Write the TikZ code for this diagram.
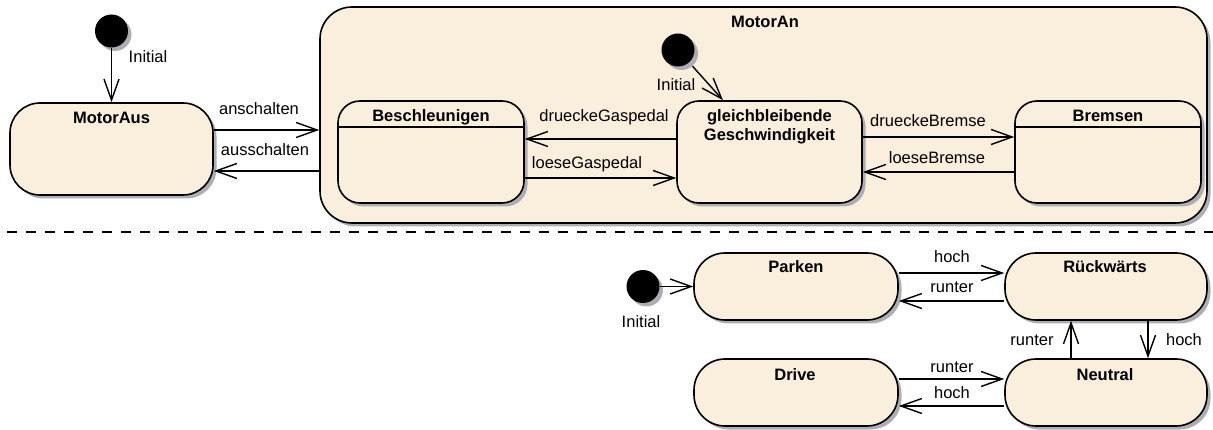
\documentclass[tikz,border=0pt]{standalone}
\usepackage{fontspec}
\setmainfont{Liberation Sans}
\usetikzlibrary{arrows.meta,shadows,calc}
\definecolor{statefill}{RGB}{250,238,220}
\definecolor{shadowgray}{RGB}{172,174,180}
\begin{document}
\begin{tikzpicture}[x=1pt,y=-1pt,
  every node/.style={font=\fontsize{16.5}{20}\selectfont, inner sep=0pt},
  shade3/.style={drop shadow={shadow xshift=3.5pt, shadow yshift=-3.5pt, fill=shadowgray, opacity=1}},
  statebox/.style={draw=black, line width=1.6pt, fill=statefill, rounded corners=#1, shade3},
  statebox/.default=22pt,
  initdot/.style={circle, fill=black, minimum size=33pt, shade3},
  title/.style={anchor=base, font=\fontsize{16.5}{20}\selectfont\bfseries},
  lbl/.style={anchor=base},
  trans/.style={draw=black, line width=1.4pt, -{Straight Barb[length=21pt,width=15pt]}},
  header/.style={draw=black, line width=1.6pt},
  sep/.style={draw=black, line width=2.2pt, dash pattern=on 10pt off 9pt}
]
\useasboundingbox (0,0) rectangle (1213,430);

% ---------- top part ----------
\node[initdot] (init1) at (111.5,31) {};
\node[lbl] (init1l) at (148,63) {Initial};

\node[statebox=30pt, minimum width=203, minimum height=92] (motoraus) at (111.5,149) {};
\node[title] (motorausT) at (111.5,124) {MotorAus};

\node[statebox=32pt, minimum width=887, minimum height=216] (motoran) at (763.5,115) {};
\node[title] (motoranT) at (765,28) {MotorAn};

\node[initdot] (init2) at (678,50) {};
\node[lbl] (init2l) at (676,91) {Initial};

\node[statebox, minimum width=186, minimum height=102] (besch) at (431,152) {};
\node[title] (beschT) at (431,122) {Beschleunigen};
\draw[header] ($(besch.north west)+(0,27)$) -- ($(besch.north east)+(0,27)$);

\node[statebox, minimum width=185, minimum height=102] (gleich) at (769.5,152) {};
\node[title, align=center, anchor=north] (gleichT) at (769.5,109) {gleichbleibende\\[-0.5pt]Geschwindigkeit};

\node[statebox, minimum width=186, minimum height=102] (bremsen) at (1108,152) {};
\node[title] (bremsenT) at (1108,122) {Bremsen};
\draw[header] ($(bremsen.north west)+(0,27)$) -- ($(bremsen.north east)+(0,27)$);

\draw[trans] (init1) -- (motoraus.north);
\draw[trans] (motoraus.east |- 0,130) -- (motoran.west |- 0,130);
\draw[trans] (motoran.west |- 0,171) -- (motoraus.east |- 0,171);
\node[lbl] (anL) at (259,115) {anschalten};
\node[lbl] (ausL) at (265,156) {ausschalten};

\draw[trans, shorten <=5pt] (init2) -- (gleich.north -| 723,0);
\draw[trans] (gleich.west |- 0,139) -- (besch.east |- 0,139);
\draw[trans] (besch.east |- 0,178) -- (gleich.west |- 0,178);
\node[lbl] (dgL) at (604,122) {drueckeGaspedal};
\node[lbl] (lgL) at (587,169) {loeseGaspedal};

\draw[trans] (gleich.east |- 0,137) -- (bremsen.west |- 0,137);
\draw[trans] (bremsen.west |- 0,172) -- (gleich.east |- 0,172);
\node[lbl] (dbL) at (928,127) {drueckeBremse};
\node[lbl] (lbL) at (937,164) {loeseBremse};

% ---------- separator ----------
\coordinate (sepL) at (7,232);
\coordinate (sepR) at (1213,232);
\draw[sep] (sepL) -- (sepR);

% ---------- bottom part ----------
\node[initdot] (init3) at (643,286.5) {};
\node[lbl] (init3l) at (641,327) {Initial};

\node[statebox=31pt, minimum width=204, minimum height=67] (parken) at (796,286.5) {};
\node[title] (parkenT) at (796,273) {Parken};
\node[statebox=31pt, minimum width=202, minimum height=67] (rueck) at (1106,286.5) {};
\node[title] (rueckT) at (1105,273) {Rückwärts};
\node[statebox=31pt, minimum width=204, minimum height=67] (drive) at (796,392.5) {};
\node[title] (driveT) at (795,380) {Drive};
\node[statebox=31pt, minimum width=202, minimum height=67] (neutral) at (1106,392.5) {};
\node[title] (neutralT) at (1105,380) {Neutral};

\draw[trans] (init3) -- (parken.west);
\draw[trans] (parken.east |- 0,273) -- (rueck.west |- 0,273);
\draw[trans] (rueck.west |- 0,301) -- (parken.east |- 0,301);
\node[lbl] (h1L) at (952,263) {hoch};
\node[lbl] (r1L) at (952,293) {runter};

\draw[trans] (neutral.north -| 1071,0) -- (rueck.south -| 1071,0);
\draw[trans] (rueck.south -| 1148,0) -- (neutral.north -| 1148,0);
\node[lbl] (r2L) at (1032,345) {runter};
\node[lbl] (h2L) at (1184,345) {hoch};

\draw[trans] (drive.east |- 0,379) -- (neutral.west |- 0,379);
\draw[trans] (neutral.west |- 0,406) -- (drive.east |- 0,406);
\node[lbl] (r3L) at (952,372) {runter};
\node[lbl] (h3L) at (952,398) {hoch};
\end{tikzpicture}
\end{document}
